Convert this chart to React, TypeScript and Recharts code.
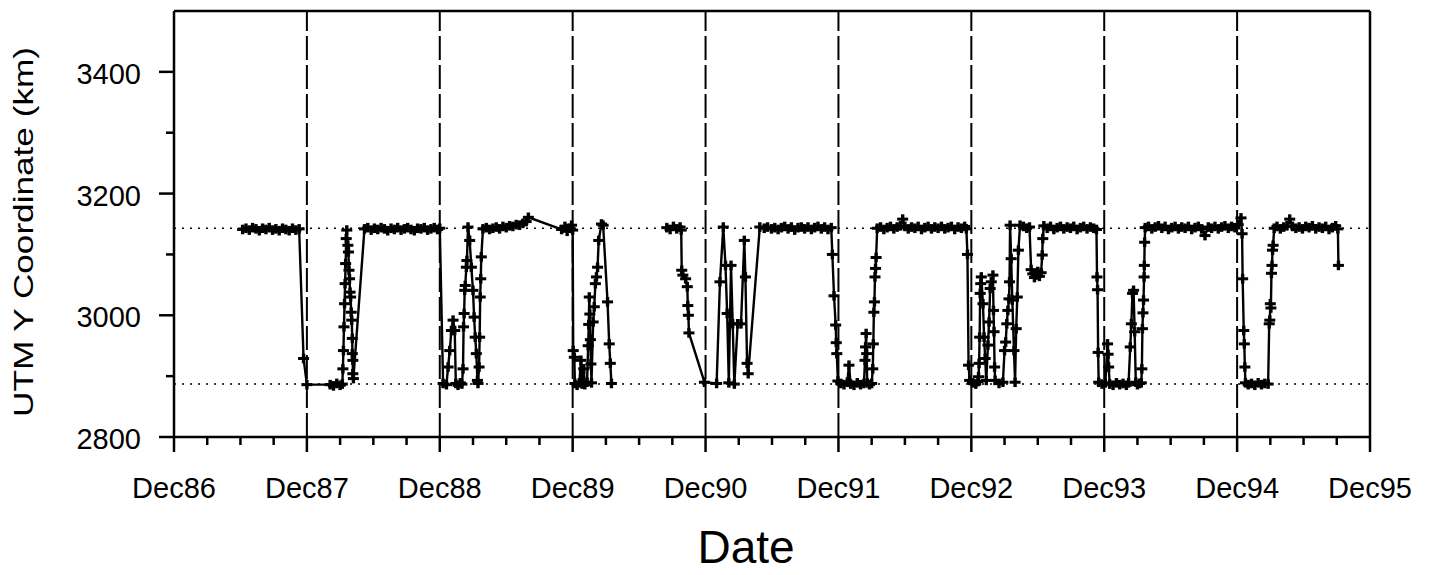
import React from 'react';
import { LineChart, Line, XAxis, YAxis, ReferenceLine } from 'recharts';

type Pt = [number, number];

// x = months since Dec 1986, y = UTM Y coordinate (km)
const track1987: Pt[] = [
  [6.2, 3141], [6.5, 3143], [6.8, 3140], [7.1, 3144], [7.4, 3142], [7.7, 3139], [8.0, 3143], [8.3, 3141], [8.6, 3144],
  [8.9, 3140], [9.2, 3142], [9.5, 3139], [9.8, 3143], [10.1, 3141], [10.4, 3139], [10.7, 3143], [11.0, 3140], [11.3, 3142],
  [11.7, 2929], [12.0, 2886],
  [14.1, 2886], [14.4, 2884], [14.7, 2888], [15.0, 2885], [15.2, 2887],
  [15.25, 2912], [15.3, 2942], [15.35, 2981], [15.4, 3019], [15.45, 3052], [15.5, 3085], [15.55, 3126], [15.6, 3140],
  [15.7, 3115], [15.75, 3104], [15.8, 3074], [15.85, 3060], [15.9, 3038], [15.95, 3030], [16.0, 3005], [16.05, 2992],
  [16.1, 2962], [16.1, 2937], [16.15, 2926], [16.15, 2904], [16.2, 2896],
];

const track1988: Pt[] = [
  [17.2, 3142], [17.5, 3144], [17.8, 3140], [18.1, 3143], [18.4, 3141], [18.7, 3144], [19.0, 3142], [19.3, 3139], [19.6, 3143],
  [19.9, 3141], [20.2, 3144], [20.5, 3140], [20.8, 3142], [21.1, 3144], [21.4, 3141], [21.7, 3139], [22.0, 3143], [22.3, 3142],
  [22.6, 3144], [22.9, 3140], [23.2, 3142], [23.5, 3144], [23.8, 3141], [24.0, 3143],
  [24.3, 2888], [24.6, 2886], [24.75, 2915], [24.9, 2942], [25.05, 2975], [25.2, 2992], [25.35, 2975], [25.45, 2888],
  [25.65, 2885], [25.85, 2889], [26.0, 2887],
  [26.1, 2912], [26.15, 2981], [26.2, 3003], [26.25, 3041], [26.3, 3049], [26.4, 3079], [26.45, 3090], [26.55, 3145],
  [26.7, 3123], [26.85, 3079], [27.0, 3041], [27.1, 2997], [27.2, 2964], [27.3, 2937], [27.4, 2893], [27.45, 2888],
  [27.55, 2915], [27.6, 2964], [27.65, 3030], [27.7, 3060], [27.75, 3096], [27.9, 3142],
];

const track1989: Pt[] = [
  [28.2, 3144], [28.5, 3141], [28.8, 3143], [29.1, 3145], [29.4, 3142], [29.7, 3146], [30.0, 3144], [30.3, 3147],
  [30.6, 3146], [30.9, 3149], [31.2, 3148], [31.5, 3151], [31.8, 3154], [32.0, 3161],
  [35.0, 3141], [35.3, 3146], [35.5, 3138], [35.7, 3143], [35.9, 3148], [36.0, 3140],
  [36.05, 2942], [36.15, 2931], [36.2, 2888], [36.4, 2885], [36.6, 2889], [36.75, 2926], [36.85, 2887], [37.0, 2912],
  [37.1, 2886], [37.3, 2890],
  [37.4, 2950], [37.45, 2985], [37.5, 3030], [37.55, 3002], [37.6, 2960], [37.65, 2920], [37.7, 2889],
  [37.85, 2989], [37.95, 3014], [38.05, 3052], [38.15, 3063], [38.25, 3079], [38.35, 3123], [38.6, 3150], [38.75, 3148],
  [39.15, 3022], [39.3, 2953], [39.4, 2921], [39.5, 2888],
];

const track1990: Pt[] = [
  [44.5, 3144], [44.8, 3141], [45.1, 3146], [45.4, 3142], [45.7, 3145], [45.8, 3140],
  [45.85, 3074], [45.95, 3066], [46.2, 3060], [46.35, 3047], [46.4, 3016], [46.45, 3000], [46.5, 2971],
  [47.9, 2890], [49.0, 2888],
  [49.3, 3055], [49.6, 3145], [49.8, 3082], [49.95, 3003], [50.1, 2889], [50.3, 3082], [50.45, 2986], [50.6, 2887],
  [50.9, 2986], [51.2, 2986], [51.5, 3123], [51.6, 3063], [51.75, 2921], [51.85, 2904],
  [52.9, 3145],
];

const track1991: Pt[] = [
  [53.3, 3143], [53.6, 3145], [53.95, 3142], [54.25, 3144], [54.55, 3141], [54.85, 3144], [55.15, 3146], [55.45, 3142],
  [55.75, 3145], [56.05, 3140], [56.35, 3144], [56.65, 3145], [56.95, 3142], [57.25, 3145], [57.55, 3141], [57.85, 3144],
  [58.15, 3146], [58.45, 3142], [58.75, 3145], [59.05, 3141], [59.35, 3144],
  [59.45, 3100], [59.6, 3032], [59.75, 2984], [59.8, 2955], [59.85, 2937], [59.95, 2892],
  [60.2, 2888], [60.5, 2886], [60.8, 2890], [60.95, 2918], [61.1, 2887], [61.4, 2885], [61.7, 2889], [62.0, 2886],
  [62.3, 2888], [62.4, 2926], [62.45, 2948], [62.5, 2970], [62.55, 2937], [62.6, 2889], [62.8, 2886], [63.0, 2888],
  [63.1, 2912], [63.15, 2953], [63.2, 3005], [63.25, 3022], [63.3, 3063], [63.35, 3077], [63.4, 3095], [63.5, 3143],
];

const track1992: Pt[] = [
  [63.8, 3145], [64.1, 3141], [64.4, 3144], [64.7, 3146], [65.0, 3142], [65.3, 3145], [65.6, 3147], [65.8, 3158],
  [66.0, 3146], [66.3, 3142], [66.6, 3145], [66.9, 3143], [67.2, 3146], [67.5, 3141], [67.8, 3144], [68.1, 3146],
  [68.4, 3142], [68.7, 3145], [69.0, 3143], [69.3, 3146], [69.6, 3142], [69.9, 3144], [70.2, 3146], [70.5, 3141],
  [70.8, 3145], [71.1, 3143], [71.4, 3146], [71.55, 3142],
  [71.65, 3100], [71.75, 2918], [71.85, 2893], [72.1, 2889], [72.4, 2887], [72.6, 2891],
  [72.65, 2899], [72.7, 2921], [72.75, 2964], [72.8, 3036], [72.85, 3052], [72.9, 3063],
  [73.05, 3019], [73.15, 2964], [73.25, 2929], [73.35, 2893],
  [73.5, 2951], [73.6, 2989], [73.7, 3044], [73.8, 3055], [73.95, 3066],
  [74.0, 3008], [74.05, 2973], [74.1, 2915], [74.15, 2893], [74.5, 2888], [74.85, 2890],
  [75.0, 2942], [75.1, 2956], [75.2, 2986], [75.3, 3008], [75.4, 3027], [75.45, 3055], [75.5, 3148],
  [75.6, 3093], [75.7, 3025], [75.85, 2942], [75.95, 2890],
  [76.05, 2978], [76.15, 3030], [76.25, 3107], [76.4, 3148],
];

const track1993: Pt[] = [
  [76.7, 3146], [77.0, 3143], [77.25, 3145], [77.4, 3075], [77.55, 3068], [77.7, 3062], [77.85, 3066], [78.0, 3072],
  [78.15, 3064], [78.3, 3070], [78.4, 3099], [78.45, 3126], [78.55, 3147],
  [78.85, 3143], [79.15, 3146], [79.45, 3141], [79.75, 3144], [80.05, 3146], [80.35, 3142], [80.65, 3145], [80.95, 3143],
  [81.25, 3146], [81.55, 3141], [81.85, 3144], [82.15, 3146], [82.45, 3142], [82.75, 3145], [83.05, 3143], [83.3, 3141],
  [83.35, 3063], [83.4, 3042], [83.45, 2939], [83.5, 2890],
  [83.8, 2887], [84.1, 2889], [84.3, 2953], [84.35, 2936], [84.4, 2915], [84.5, 2887], [84.8, 2885], [85.1, 2889],
  [85.4, 2886], [85.7, 2888], [86.0, 2885], [86.2, 2889],
  [86.35, 2948], [86.45, 2986], [86.55, 3036], [86.65, 3041], [86.75, 2973], [86.85, 2890], [87.0, 2886], [87.2, 2888],
  [87.35, 2889],
  [87.4, 2912], [87.45, 2978], [87.5, 3004], [87.55, 3025], [87.6, 3063], [87.62, 3082], [87.65, 3120], [87.7, 3144],
];

const track1994: Pt[] = [
  [88.0, 3146], [88.3, 3142], [88.6, 3145], [88.9, 3147], [89.2, 3143], [89.5, 3146], [89.8, 3141], [90.1, 3144],
  [90.4, 3146], [90.7, 3142], [91.0, 3145], [91.3, 3143], [91.6, 3146], [91.9, 3141], [92.2, 3144], [92.5, 3146],
  [92.8, 3142], [93.1, 3131], [93.4, 3145], [93.7, 3143], [94.0, 3146], [94.3, 3142], [94.6, 3145], [94.9, 3147],
  [95.2, 3143], [95.5, 3146], [95.8, 3144], [96.1, 3149], [96.35, 3160],
  [96.45, 3134], [96.5, 3060], [96.6, 2975], [96.65, 2953], [96.7, 2915], [96.75, 2889],
  [97.0, 2886], [97.3, 2888], [97.6, 2885], [97.9, 2889], [98.2, 2886], [98.5, 2888], [98.8, 2887],
  [98.9, 2986], [98.95, 2992], [99.0, 3019], [99.05, 3012], [99.1, 3069], [99.15, 3082], [99.2, 3107], [99.25, 3115],
  [99.35, 3143],
];

const track1995: Pt[] = [
  [99.6, 3146], [99.9, 3142], [100.2, 3145], [100.5, 3147], [100.75, 3158], [101.0, 3146], [101.3, 3143], [101.6, 3145],
  [101.9, 3142], [102.2, 3146], [102.5, 3144], [102.8, 3147], [103.1, 3142], [103.4, 3145], [103.7, 3143], [104.0, 3146],
  [104.3, 3141], [104.6, 3144], [104.9, 3147], [105.1, 3142], [105.15, 3082],
];

// Axis ticks and labels
const yearLabels = ['Dec86', 'Dec87', 'Dec88', 'Dec89', 'Dec90', 'Dec91', 'Dec92', 'Dec93', 'Dec94', 'Dec95'];
const xTicks = [0, 3, 6, 9, 12, 15, 18, 21, 24, 27, 30, 33, 36, 39, 42, 45, 48, 51, 54, 57, 60, 63, 66, 69, 72, 75, 78, 81,
  84, 87, 90, 93, 96, 99, 102, 105, 108];
const yTicks = [2800, 2900, 3000, 3100, 3200, 3300, 3400, 3500];
const yLabelled = [2800, 3000, 3200, 3400];
const refLevels = [3143, 2887];
const winterLines = [12, 24, 36, 48, 60, 72, 84, 96];

const FONT = '"Liberation Sans", Arial, Helvetica, sans-serif';

type Row = { m: number; v: number | null };
const toRows = (pts: Pt[]): Row[] => pts.map(([m, v]) => ({ m, v }));
const chartData: Row[] = [
  ...toRows(track1987),
  ...toRows(track1988),
  ...toRows(track1989),
  { m: 42, v: null },
  ...toRows(track1990),
  ...toRows(track1991),
  ...toRows(track1992),
  ...toRows(track1993),
  ...toRows(track1994),
  ...toRows(track1995),
];

const XTick = (props: any) => {
  const { x, y, payload } = props;
  const v = payload.value as number;
  const major = v % 12 === 0;
  return (
    <g>
      <line x1={x} y1={y} x2={x} y2={y + (major ? 15 : 8)} stroke="#000" strokeWidth={2.5} />
      {major && (
        <text x={x} y={y + 61} textAnchor="middle" fontSize={29} fontFamily={FONT} fill="#000">
          {yearLabels[v / 12]}
        </text>
      )}
    </g>
  );
};

const YTick = (props: any) => {
  const { x, y, payload } = props;
  const v = payload.value as number;
  if (v === 3500) return <g />;
  const major = yLabelled.includes(v);
  return (
    <g>
      <line x1={x - (major ? 15 : 8)} y1={y} x2={x} y2={y} stroke="#000" strokeWidth={2.5} />
      {major && (
        <text x={x - 33} y={y + 12} textAnchor="end" fontSize={29} fontFamily={FONT} fill="#000">
          {v}
        </text>
      )}
    </g>
  );
};

const DateTitle = () => (
  <text x={746} y={563} textAnchor="middle" fontSize={46} fontFamily={FONT} fill="#000">
    Date
  </text>
);

const YTitle = () => (
  <text
    x={33}
    y={232}
    transform="rotate(-90 33 232)"
    textAnchor="middle"
    fontSize={28}
    fontFamily={FONT}
    fill="#000"
    textLength={370}
    lengthAdjust="spacingAndGlyphs"
  >
    UTM Y Coordinate (km)
  </text>
);

const renderCross = (p: any) => {
  const { cx, cy, index, payload } = p;
  if (cx == null || cy == null || payload == null || payload.v == null) return <g key={`c${index}`} />;
  return (
    <g key={`c${index}`}>
      <rect x={cx - 5.5} y={cy - 1.5} width={11} height={3} fill="#000" />
      <rect x={cx - 1.7} y={cy - 4.8} width={3.4} height={9.6} fill="#000" />
    </g>
  );
};

export default function App() {
  return (
    <div style={{ position: 'absolute', left: 0, top: 0, width: 1432, height: 575, background: '#fff' }}>
      <LineChart width={1432} height={575} data={chartData} margin={{ top: 11, right: 62, left: 0, bottom: 78 }}>
        <XAxis
          dataKey="m"
          type="number"
          domain={[0, 108]}
          ticks={xTicks}
          interval={0}
          tick={(p: any) => <XTick {...p} />}
          tickLine={false}
          tickSize={0}
          tickMargin={0}
          height={60}
          axisLine={{ stroke: '#000', strokeWidth: 2.5 }}
          label={<DateTitle />}
        />
        <YAxis
          type="number"
          domain={[2800, 3500]}
          ticks={yTicks}
          interval={0}
          tick={(p: any) => <YTick {...p} />}
          tickLine={false}
          tickSize={0}
          tickMargin={0}
          width={174}
          axisLine={{ stroke: '#000', strokeWidth: 2.5 }}
          label={<YTitle />}
        />
        {winterLines.map((m) => (
          <ReferenceLine key={`w${m}`} x={m} stroke="#000" strokeWidth={2} strokeDasharray="24 5" />
        ))}
        {refLevels.map((lv) => (
          <ReferenceLine key={`r${lv}`} y={lv} stroke="#000" strokeWidth={1.6} strokeDasharray="2 6" />
        ))}
        <ReferenceLine y={3500} stroke="#000" strokeWidth={2.5} />
        <ReferenceLine x={108} stroke="#000" strokeWidth={2.5} />
        <Line
          dataKey="v"
          type="linear"
          stroke="#000"
          strokeWidth={2.4}
          dot={renderCross}
          activeDot={false}
          connectNulls={false}
          isAnimationActive={false}
        />
      </LineChart>
    </div>
  );
}
